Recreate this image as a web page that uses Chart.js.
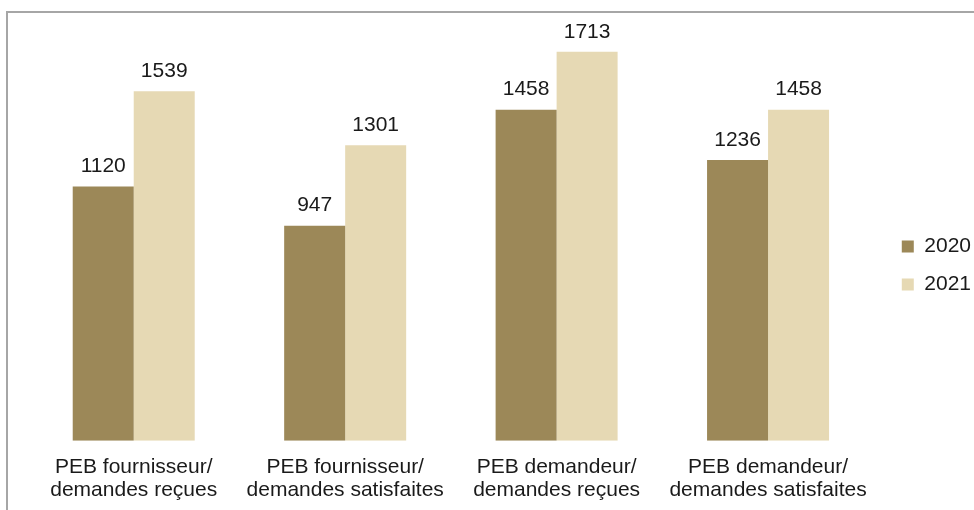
<!DOCTYPE html>
<html>
<head>
<meta charset="utf-8">
<script src="https://cdn.jsdelivr.net/npm/chart.js@4"></script>
<style>
  html, body { margin: 0; padding: 0; background: #fff; overflow: hidden; }
  #wrap { position: relative; width: 974px; height: 510px; }
  #frame { position: absolute; left: 6px; top: 11px; width: 1000px; height: 600px; border: 2px solid #a6a6a6; box-sizing: border-box; }
  canvas { position: absolute; left: 0; top: 0; }
</style>
</head>
<body>
<div id="wrap">
  <div id="frame"></div>
  <canvas id="chart" width="974" height="510"></canvas>
</div>
<script>
const categories = [
  ['PEB fournisseur/', 'demandes reçues'],
  ['PEB fournisseur/', 'demandes satisfaites'],
  ['PEB demandeur/', 'demandes reçues'],
  ['PEB demandeur/', 'demandes satisfaites']
];
const seriesNames = ['2020', '2021'];
const values2020 = [1120, 947, 1458, 1236];
const values2021 = [1539, 1301, 1713, 1458];

const FONT = '"Liberation Sans", Arial, sans-serif';

const barLabels = {
  id: 'barLabels',
  afterDatasetsDraw(chart) {
    const ctx = chart.ctx;
    ctx.save();
    ctx.font = '21px ' + FONT;
    ctx.fillStyle = '#1a1a1a';
    ctx.textAlign = 'center';
    ctx.textBaseline = 'middle';
    chart.data.datasets.forEach((ds, i) => {
      chart.getDatasetMeta(i).data.forEach((bar, j) => {
        ctx.fillText(String(ds.data[j]), bar.x, bar.y - 20);
      });
    });
    ctx.restore();
  }
};

new Chart(document.getElementById('chart'), {
  type: 'bar',
  data: {
    labels: categories,
    datasets: [
      { label: seriesNames[0], data: values2020, backgroundColor: '#9c8858' },
      { label: seriesNames[1], data: values2021, backgroundColor: '#e6d9b4' }
    ]
  },
  options: {
    responsive: false,
    animation: false,
    devicePixelRatio: 1,
    layout: { padding: { top: 14, left: 28, right: -7, bottom: -7 } },
    datasets: { bar: { barPercentage: 1, categoryPercentage: 0.577 } },
    scales: {
      y: {
        position: 'right',
        min: 0,
        max: 1879,
        grid: { display: false },
        border: { display: false },
        ticks: { display: false },
        afterFit: (s) => { s.width = 11; }
      },
      x: {
        grid: { display: false, drawTicks: false },
        border: { display: false },
        ticks: {
          color: '#1a1a1a',
          maxRotation: 0,
          padding: 15,
          font: { family: FONT, size: 21, lineHeight: 1.1 }
        }
      }
    },
    plugins: {
      tooltip: { enabled: false },
      legend: {
        position: 'right',
        labels: {
          boxWidth: 12,
          boxHeight: 12,
          padding: 17,
          color: '#1a1a1a',
          font: { family: FONT, size: 21 }
        }
      }
    }
  },
  plugins: [barLabels]
});
</script>
</body>
</html>
